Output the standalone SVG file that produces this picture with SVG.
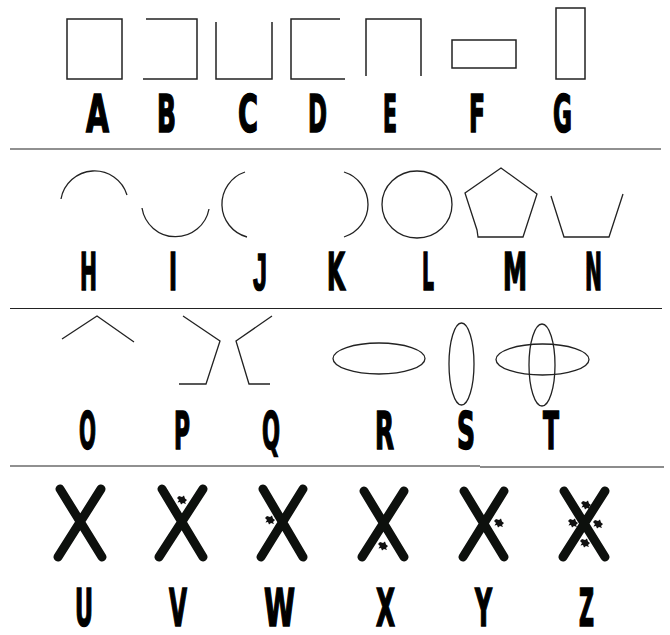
<svg xmlns="http://www.w3.org/2000/svg" width="670" height="635" viewBox="0 0 670 635">
<style>
.s{fill:none;stroke:#222;stroke-width:1.5}
.t{fill:none;stroke:#222;stroke-width:1.3}
.x{fill:none;stroke:#0d100d;stroke-width:9;stroke-linecap:round}
.d{stroke:#222;stroke-width:1.2}
.l{font-family:"Liberation Sans Narrow","DejaVu Sans Condensed","Liberation Sans",sans-serif;font-weight:bold;font-size:51px;fill:#000;stroke:#000;stroke-width:1.6;text-anchor:middle}
.j{font-family:"Liberation Sans",sans-serif}
</style>
<defs>
<path id="splat" d="M-3,-4 L0,-3 L2,-4.5 L3,-1.5 L5,0 L3,2 L4,4 L1,3 L-1,4.5 L-2,2 L-4.5,2.5 L-3,0 L-5,-2 Z" fill="#111"/>
</defs>
<rect width="670" height="635" fill="#fff"/>
<g id="dividers">
<line class="d" x1="10" y1="149" x2="661" y2="149"/>
<line class="d" x1="10" y1="308.5" x2="662" y2="308.5"/>
<line class="d" x1="10" y1="466" x2="480" y2="466"/>
<line x1="480" y1="467" x2="664" y2="467" stroke="#666" stroke-width="1.4"/>
</g>
<g id="A"><rect class="s" x="67" y="19" width="55" height="60"/><text class="l" x="97.5" y="132" textLength="23" lengthAdjust="spacingAndGlyphs">A</text></g>
<g id="B"><path class="s" d="M146,19 H197 V79 H143"/><text class="l" x="166.5" y="132" textLength="19" lengthAdjust="spacingAndGlyphs">B</text></g>
<g id="C"><path class="s" d="M216,22 V79 H272 V22"/><text class="l" x="248" y="132" textLength="20" lengthAdjust="spacingAndGlyphs">C</text></g>
<g id="D"><path class="s" d="M340,19 H291 V79 H345"/><text class="l" x="317.5" y="132" textLength="19" lengthAdjust="spacingAndGlyphs">D</text></g>
<g id="E"><path class="s" d="M366,76 V19 H421 V76"/><text class="l" x="390" y="132" textLength="14" lengthAdjust="spacingAndGlyphs">E</text></g>
<g id="F"><rect class="s" x="452" y="40" width="64" height="28"/><text class="l" x="477" y="132" textLength="16" lengthAdjust="spacingAndGlyphs">F</text></g>
<g id="G"><rect class="s" x="556" y="8" width="29" height="71"/><text class="l" x="562.5" y="132" textLength="19" lengthAdjust="spacingAndGlyphs">G</text></g>
<g id="H"><path class="t" d="M61,199 A34,34 0 0 1 127,195"/><text class="l" x="88.5" y="290" textLength="17" lengthAdjust="spacingAndGlyphs">H</text></g>
<g id="I"><path class="t" d="M142,208 A34,34 0 0 0 209,209"/><text class="l" x="173" y="290" textLength="8" lengthAdjust="spacingAndGlyphs">I</text></g>
<g id="J"><path class="t" d="M245,172 A34,34 0 0 0 247,237"/><text class="l j" x="260" y="290" textLength="14" lengthAdjust="spacingAndGlyphs">J</text></g>
<g id="K"><path class="t" d="M344,172 A34,34 0 0 1 344,237"/><text class="l" x="336" y="290" textLength="18" lengthAdjust="spacingAndGlyphs">K</text></g>
<g id="L"><ellipse class="t" cx="417" cy="204.5" rx="35" ry="33.5"/><text class="l" x="428" y="290" textLength="12" lengthAdjust="spacingAndGlyphs">L</text></g>
<g id="M"><path class="t" d="M478,237 L477,230 L465,193 L501,168 L537,194 L523,237 Z"/><text class="l" x="515" y="290" textLength="24" lengthAdjust="spacingAndGlyphs">M</text></g>
<g id="N"><path class="t" d="M551,196 L564,237 H609 L623,194"/><text class="l" x="593.5" y="290" textLength="17" lengthAdjust="spacingAndGlyphs">N</text></g>
<g id="O"><path class="t" d="M62,339 L97,316 L134,342"/><text class="l" x="87.5" y="449" textLength="17" lengthAdjust="spacingAndGlyphs">O</text></g>
<g id="P"><path class="t" d="M183,316 L220,341 L206,384 H179"/><text class="l" x="182" y="449" textLength="16" lengthAdjust="spacingAndGlyphs">P</text></g>
<g id="Q"><path class="t" d="M272,316 L236,341 L249,384 H270"/><text class="l" x="271" y="449" textLength="18" lengthAdjust="spacingAndGlyphs">Q</text></g>
<g id="R"><ellipse class="t" cx="379" cy="358.5" rx="46" ry="15.5"/><text class="l" x="384.5" y="449" textLength="19" lengthAdjust="spacingAndGlyphs">R</text></g>
<g id="S"><ellipse class="t" cx="461.5" cy="364" rx="12.5" ry="41"/><text class="l" x="466" y="449" textLength="18" lengthAdjust="spacingAndGlyphs">S</text></g>
<g id="T"><ellipse class="t" cx="542.5" cy="359.5" rx="46.5" ry="15.5"/><ellipse class="t" cx="542" cy="365" rx="13" ry="41"/><text class="l" x="551" y="449" textLength="16" lengthAdjust="spacingAndGlyphs">T</text></g>
<g id="U"><path class="x" d="M60,489 L102,557 M101,489 L58,557"/><text class="l" x="84" y="626" textLength="18" lengthAdjust="spacingAndGlyphs">U</text></g>
<g id="V"><path class="x" d="M162,489 L203,557 M203,489 L159,557"/><use href="#splat" x="182" y="500"/><text class="l" x="178" y="626" textLength="18" lengthAdjust="spacingAndGlyphs">V</text></g>
<g id="W"><path class="x" d="M263,489 L303,557 M303,489 L261,557"/><use href="#splat" x="270" y="520"/><text class="l" x="279.5" y="626" textLength="31" lengthAdjust="spacingAndGlyphs">W</text></g>
<g id="X"><path class="x" d="M364,491 L404,557 M404,491 L362,557"/><use href="#splat" x="383" y="546"/><text class="l" x="385.5" y="626" textLength="19" lengthAdjust="spacingAndGlyphs">X</text></g>
<g id="Y"><path class="x" d="M464,491 L504,557 M504,491 L463,557"/><use href="#splat" x="499" y="523"/><text class="l" x="483.5" y="626" textLength="17" lengthAdjust="spacingAndGlyphs">Y</text></g>
<g id="Z"><path class="x" d="M564,491 L605,557 M605,491 L563,557"/><use href="#splat" x="586" y="505"/><use href="#splat" x="573" y="523"/><use href="#splat" x="598" y="524"/><use href="#splat" x="585" y="543"/><text class="l" x="586.5" y="626" textLength="15" lengthAdjust="spacingAndGlyphs">Z</text></g>
</svg>
